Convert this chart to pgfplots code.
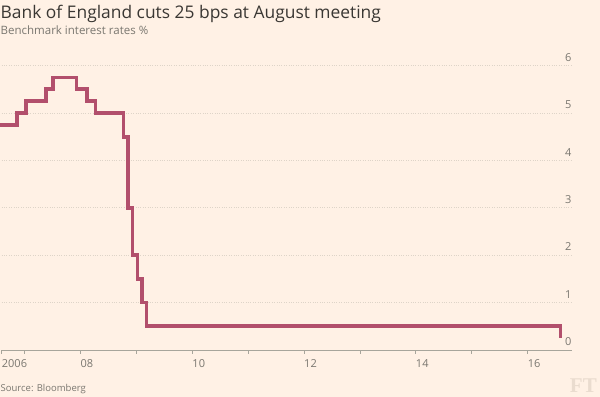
\documentclass[border=0pt]{standalone}
\usepackage{pgfplots}
\pgfplotsset{compat=1.18}
\usepackage{fontspec}
\setmainfont{Open Sans}
\newfontfamily\ftlogofont{Liberation Serif}
\definecolor{ftbg}{HTML}{FFF1E5}
\definecolor{ftline}{HTML}{B24F6C}
\definecolor{fttext}{HTML}{3A3733}
\definecolor{ftgrey}{HTML}{7A7770}
\definecolor{ftaxis}{HTML}{A7A59B}
\definecolor{ftgrid}{HTML}{DED4C8}
\definecolor{ftlogo}{HTML}{EADCCF}
\begin{document}
\begin{tikzpicture}
\fill[ftbg] (0,0) rectangle (600bp,397bp);
\path[use as bounding box] (0,0) rectangle (600bp,397bp);
\begin{axis}[
  at={(1.7bp,47bp)}, anchor=south west,
  scale only axis, width=570bp, height=284.4bp,
  xmin=2006.59, xmax=2016.79, ymin=0, ymax=6,
  clip=false,
  axis x line*=bottom, axis y line*=right,
  x axis line style={draw=ftaxis, line width=0.6bp, -},
  y axis line style={draw=none},
  xtick={2006.59,2007,2008,2009,2010,2011,2012,2013,2014,2015,2016},
  xticklabels={2006,,08,,10,,12,,14,,16},
  xtick align=outside, major tick length=4bp,
  xtick style={draw=ftaxis, line width=0.6bp},
  ytick={0,1,2,3,4,5,6},
  ytick style={draw=none},
  ymajorgrids, grid style={draw=ftgrid, dotted, line width=0.7bp},
  /pgf/number format/assume math mode=true,
  xticklabel style={anchor=north west, inner sep=0pt, xshift=0bp, yshift=-5bp, font=\fontsize{11bp}{13bp}\selectfont, text=ftgrey},
  yticklabel style={anchor=south east, inner sep=0pt, xshift=0bp, yshift=4bp, font=\fontsize{11bp}{13bp}\selectfont, text=ftgrey},
]
\addplot[const plot, color=ftline, line width=3.8bp, line join=miter] coordinates {
(2006.56,4.75) (2006.86,5.00) (2007.03,5.25) (2007.38,5.50) (2007.51,5.75)
(2007.93,5.50) (2008.11,5.25) (2008.27,5.00) (2008.77,4.50) (2008.85,3.00)
(2008.93,2.00) (2009.02,1.50) (2009.10,1.00) (2009.18,0.50) (2016.59,0.25)
};
\end{axis}
\node[anchor=base west, inner sep=0pt, text=fttext, font=\fontsize{17.4bp}{20bp}\selectfont] at (0.5bp,378.7bp) {Bank of England cuts 25 bps at August meeting};
\node[anchor=base west, inner sep=0pt, text=ftgrey, font=\fontsize{11.5bp}{13bp}\selectfont] at (0.5bp,362.7bp) {Benchmark interest rates \%};
\node[anchor=base west, inner sep=0pt, text=ftgrey, font=\fontsize{9.5bp}{12bp}\selectfont] at (0.5bp,5.3bp) {Source: Bloomberg};
\node[anchor=base east, inner sep=0pt, text=ftlogo, font=\fontsize{21bp}{25bp}\selectfont\ftlogofont\bfseries] at (597bp,5bp) {FT};
\end{tikzpicture}
\end{document}
